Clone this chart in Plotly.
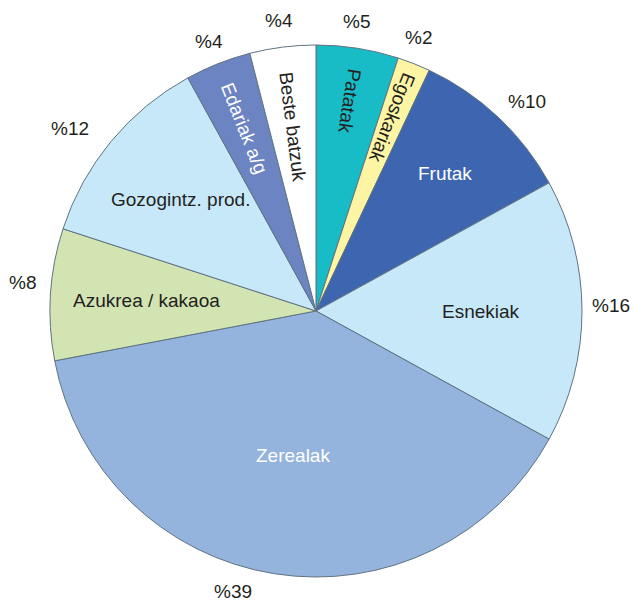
import math
import plotly.graph_objects as go

# ---- data ----
categories = ["Patatak", "Egoskariak", "Frutak", "Esnekiak", "Zerealak",
              "Azukrea / kakaoa", "Gozogintz. prod.", "Edariak a/g", "Beste batzuk"]
values = [5, 2, 10, 16, 39, 8, 12, 4, 4]
pct_labels = ["%" + str(v) for v in values]

# ---- style ----
slice_colors = ["#17bcc7", "#fdf5a3", "#3e66b0", "#c7e8f8", "#94b3dd",
                "#d3e4b3", "#c7e8f8", "#6d84c3", "#ffffff"]
label_colors = ["#231f20", "#231f20", "#ffffff", "#231f20", "#ffffff",
                "#231f20", "#231f20", "#ffffff", "#231f20"]
label_radial = [True, True, False, False, False, False, False, True, True]
label_rfrac = [0.80, 0.78, 0.71, 0.62, 0.55, 0.64, 0.66, 0.74, 0.70]
pct_rfrac = [1.10, 1.10, 1.12, 1.11, 1.10, 1.11, 1.15, 1.09, 1.10]
pct_nudge_deg = [-1, -1, 2, -1, 7.5, 2, -3, 0, 0]
FONT = "Liberation Sans, Arial, Helvetica, sans-serif"
FS = 19

W, H = 634, 601
ML, MR, MT, MB = 49, 51, 45, 24
plotW, plotH = W - ML - MR, H - MT - MB
R = min(plotW, plotH) / 2.0
rx, ry = R / plotW, R / plotH

fig = go.Figure()
fig.add_trace(go.Pie(
    labels=categories, values=values, sort=False, direction="clockwise",
    rotation=0, textinfo="none", hoverinfo="label+value",
    marker=dict(colors=slice_colors, line=dict(color="#5f7383", width=1)),
    showlegend=False,
))

total = float(sum(values))
cum = 0.0
annotations = []
for i, (cat, v, pl) in enumerate(zip(categories, values, pct_labels)):
    mid = (cum + v / 2.0) / total * 360.0  # clockwise from 12 o'clock
    cum += v
    th = math.radians(mid)
    sx, sy = math.sin(th), math.cos(th)
    ang = mid if mid <= 180 else mid - 360
    rf = label_rfrac[i]
    annotations.append(dict(
        x=0.5 + rf * rx * sx, y=0.5 + rf * ry * sy, xref="paper", yref="paper",
        text=cat, showarrow=False, xanchor="center", yanchor="middle",
        textangle=(90 + ang) if label_radial[i] else 0,
        font=dict(family=FONT, size=FS, color=label_colors[i]),
    ))
    th2 = math.radians(mid + pct_nudge_deg[i])
    pf = pct_rfrac[i]
    annotations.append(dict(
        x=0.5 + pf * rx * math.sin(th2), y=0.5 + pf * ry * math.cos(th2),
        xref="paper", yref="paper", text=pl, showarrow=False,
        xanchor="center", yanchor="middle",
        font=dict(family=FONT, size=FS, color="#231f20"),
    ))

fig.update_layout(
    width=W, height=H, margin=dict(l=ML, r=MR, t=MT, b=MB),
    paper_bgcolor="white", plot_bgcolor="white",
    annotations=annotations,
)
fig.write_html(
    "out.html",
    config={"displayModeBar": False},
    post_script="document.body.style.margin='0';document.body.style.overflow='hidden';",
)
